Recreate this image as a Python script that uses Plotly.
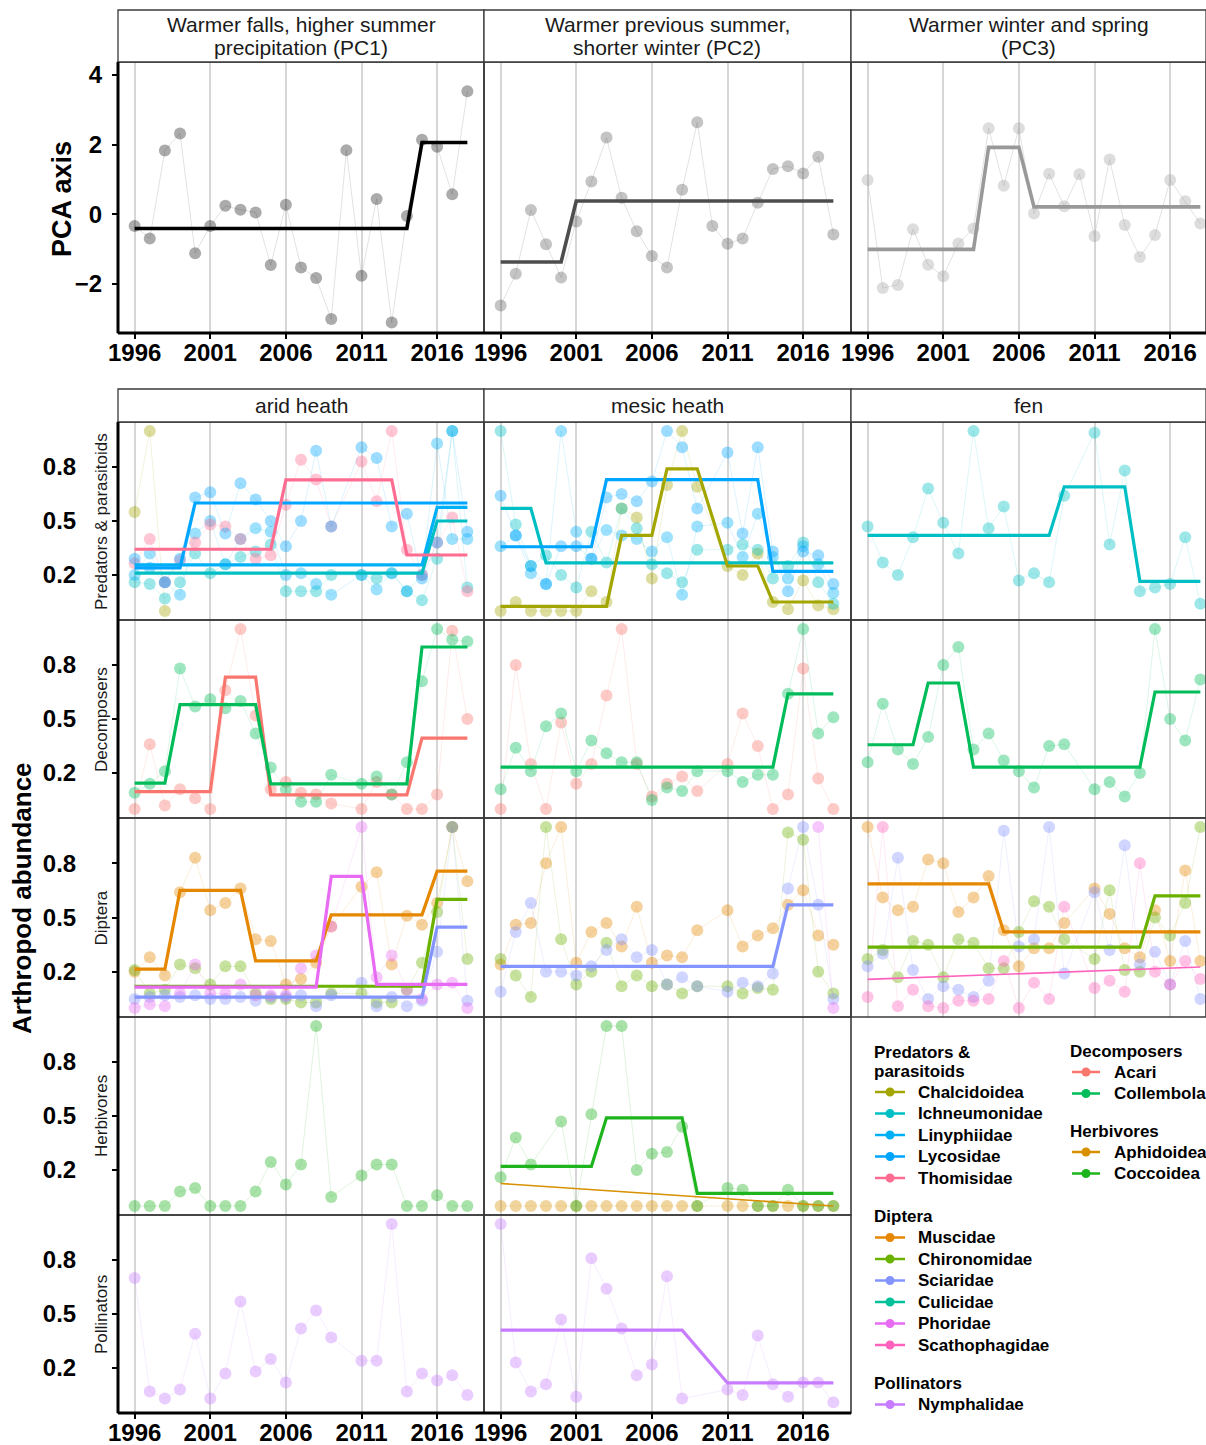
import plotly.graph_objects as go

W, H = 1206, 1445
FONT = "Liberation Sans, Arial, sans-serif"
YEARS = list(range(1996, 2019))

# ---------------- climate PCA scores ----------------
PC1_SCORES = [-0.34, -0.70, 1.83, 2.32, -1.12, -0.34, 0.24, 0.13, 0.05, -1.46, 0.27, -1.53,
              -1.83, -3.01, 1.84, -1.77, 0.44, -3.11, -0.05, 2.14, 1.94, 0.57, 3.53]
PC1_FIT = [(1996, 2014, -0.41), (2015, 2018, 2.06)]
PC2_SCORES = [-2.62, -1.71, 0.12, -0.86, -1.82, -0.21, 0.94, 2.20, 0.47, -0.49, -1.20, -1.53,
              0.70, 2.64, -0.34, -0.85, -0.70, 0.33, 1.30, 1.38, 1.17, 1.65, -0.58]
PC2_FIT = [(1996, 2000, -1.37), (2001, 2018, 0.38)]
PC3_SCORES = [0.98, -2.12, -2.03, -0.43, -1.45, -1.78, -0.84, -0.41, 2.47, 0.82, 2.47, 0.02,
              1.16, 0.23, 1.15, -0.63, 1.57, -0.31, -1.23, -0.60, 0.98, 0.37, -0.27]
PC3_FIT = [(1996, 2003, -1.01), (2004, 2006, 1.92), (2007, 2018, 0.21)]
PC_TITLES = [("Warmer falls, higher summer", "precipitation (PC1)"),
             ("Warmer previous summer,", "shorter winter (PC2)"),
             ("Warmer winter and spring", "(PC3)")]

# ---------------- relative arthropod abundance ----------------
N = None
# Predators & parasitoids
ARID_CHALCIDOIDEA = [0.55, 1.0, 0.0, N, N, N, N, N, N, N, N, N, N, N, N, N, N, N, N, N, N, N, N]
ARID_ICHNEUMONIDAE = [0.16, 0.15, 0.07, 0.16, 0.32, 0.21, 0.26, 0.30, 0.33, 0.37, 0.11, 0.11,
                      0.11, 0.20, N, 0.20, 0.18, 0.21, 0.11, 0.06, 0.29, 1.0, 0.13]
ARID_ICHNEUMONIDAE_FIT = [(1996, 2015, 0.21), (2016, 2018, 0.50)]
ARID_LINYPHIIDAE = [0.20, 0.32, 0.16, 0.09, 0.43, 0.50, 0.26, 0.40, 0.46, 0.44, 0.20, 0.21,
                    0.15, 0.09, N, 0.20, 0.12, 0.21, 0.11, 0.20, 0.93, 0.40, 0.40]
ARID_LINYPHIIDAE_FIT = [(1996, 2015, 0.256), (2016, 2018, 0.576)]
ARID_LYCOSIDAE = [0.29, 0.24, 0.16, 0.29, 0.63, 0.66, 0.43, 0.71, 0.62, 0.50, 0.36, 0.50,
                  0.89, 0.47, N, 0.91, 0.85, 0.47, 0.54, 0.18, 0.38, 1.0, 0.44]
ARID_LYCOSIDAE_FIT = [(1996, 1999, 0.24), (2000, 2018, 0.60)]
ARID_THOMISIDAE = [0.265, 0.40, 0.16, 0.28, 0.38, 0.48, 0.47, 0.40, 0.29, 0.31, 0.59, 0.84,
                   0.73, 0.47, N, 0.83, 0.61, 1.0, 0.34, 0.20, 0.38, 0.52, 0.11]
ARID_THOMISIDAE_FIT = [(1996, 2005, 0.343), (2006, 2013, 0.728), (2014, 2018, 0.311)]

MESIC_CHALCIDOIDEA = [0.0, 0.05, 0.0, 0.0, 0.0, 0.0, 0.11, 0.05, 0.57, 0.52, 0.18, 0.70,
                      1.0, 0.69, N, 0.25, 0.20, 0.32, 0.05, 0.01, 0.17, 0.03, 0.01]
MESIC_CHALCIDOIDEA_FIT = [(1996, 2003, 0.026), (2004, 2006, 0.42), (2007, 2009, 0.79),
                          (2011, 2013, 0.25), (2014, 2018, 0.05)]
MESIC_ICHNEUMONIDAE = [1.0, 0.48, 0.25, 0.31, 0.20, 0.13, 0.44, 0.27, 0.57, 0.46, 0.26, 0.21,
                       0.16, 0.34, N, 0.34, 0.37, 0.34, 0.18, 0.25, 0.38, 0.16, 0.04]
MESIC_ICHNEUMONIDAE_FIT = [(1996, 1998, 0.57), (1999, 2018, 0.267)]
MESIC_LINYPHIIDAE = [0.36, 0.42, 0.21, 0.15, 1.0, 0.44, 0.29, 0.45, 0.42, 0.40, 0.33, 0.41,
                     0.09, 0.47, N, 0.49, 0.30, 0.54, 0.30, 0.18, 0.36, 0.26, 0.10]
MESIC_LYCOSIDAE = [0.64, 0.42, 0.25, 0.15, 0.36, 0.36, 0.29, 0.63, 0.65, 0.61, 0.72, 1.0,
                   0.91, 0.57, N, 0.88, 0.43, 0.91, 0.33, 0.11, 0.33, 0.31, 0.15]
MESIC_LYCOSIDAE_FIT = [(1996, 2002, 0.357), (2003, 2013, 0.73), (2014, 2018, 0.22)]

FEN_ICHNEUMONIDAE = [0.47, 0.27, 0.20, 0.41, 0.68, 0.49, 0.32, 1.0, 0.46, 0.58, 0.17, 0.21,
                     0.16, 0.64, N, 0.99, 0.37, 0.78, 0.11, 0.13, 0.15, 0.41, 0.04]
FEN_ICHNEUMONIDAE_FIT = [(1996, 2008, 0.42), (2009, 2013, 0.69), (2014, 2018, 0.165)]

# Decomposers
ARID_ACARI = [0.0, 0.36, 0.02, 0.11, 0.06, 0.0, 0.66, 1.0, 0.52, 0.11, 0.15, 0.09,
              0.08, 0.03, N, 0.0, 0.15, 0.08, 0.0, 0.0, 0.08, 0.99, 0.50]
ARID_ACARI_FIT = [(1996, 2001, 0.096), (2002, 2004, 0.733), (2005, 2014, 0.078), (2015, 2018, 0.394)]
ARID_COLLEMBOLA = [0.09, 0.14, 0.21, 0.78, 0.57, 0.61, 0.56, 0.60, 0.42, 0.23, 0.11, 0.04,
                   0.04, 0.19, N, 0.14, 0.18, 0.08, 0.26, 0.71, 1.0, 0.94, 0.93]
ARID_COLLEMBOLA_FIT = [(1996, 1998, 0.144), (1999, 2004, 0.58), (2005, 2014, 0.14), (2015, 2018, 0.90)]
MESIC_ACARI = [0.0, 0.80, 0.25, 0.0, 0.48, 0.14, 0.25, 0.63, 1.0, 0.25, 0.07, 0.14,
               0.18, 0.10, N, 0.25, 0.53, 0.35, 0.0, 0.08, 0.78, 0.17, 0.0]
MESIC_COLLEMBOLA = [0.11, 0.34, 0.21, 0.46, 0.53, 0.21, 0.38, 0.31, 0.26, 0.26, 0.05, 0.12,
                    0.10, 0.21, N, 0.21, 0.15, 0.19, 0.19, 0.64, 1.0, 0.42, 0.51]
MESIC_COLLEMBOLA_FIT = [(1996, 2014, 0.233), (2015, 2018, 0.64)]
FEN_COLLEMBOLA = [0.26, 0.585, 0.33, 0.25, 0.40, 0.80, 0.90, 0.33, 0.42, 0.27, 0.21, 0.12,
                  0.35, 0.36, N, 0.11, 0.15, 0.07, 0.20, 1.0, 0.50, 0.38, 0.72]
FEN_COLLEMBOLA_FIT = [(1996, 1999, 0.357), (2000, 2002, 0.70), (2003, 2014, 0.233), (2015, 2018, 0.65)]

# Diptera
ARID_MUSCIDAE = [0.20, 0.28, 0.18, 0.64, 0.83, 0.54, 0.58, 0.66, 0.38, 0.37, 0.13, 0.16,
                 0.25, 0.45, N, 0.67, 0.75, 0.24, 0.51, 0.46, 0.58, 1.0, 0.70]
ARID_MUSCIDAE_FIT = [(1996, 1998, 0.215), (1999, 2003, 0.65), (2004, 2008, 0.26),
                     (2009, 2015, 0.515), (2016, 2018, 0.756)]
ARID_CHIRONOMIDAE = [0.21, 0.08, 0.10, 0.24, 0.22, 0.13, 0.23, 0.23, 0.08, 0.05, 0.05, 0.03,
                     0.03, 0.08, N, 0.08, 0.03, 0.03, 0.10, 0.25, 0.53, 1.0, 0.27]
ARID_CHIRONOMIDAE_FIT = [(1996, 2015, 0.12), (2016, 2018, 0.60)]
ARID_SCIARIDAE = [0.05, 0.06, 0.07, 0.06, 0.07, 0.05, 0.05, 0.06, 0.04, 0.06, 0.06, 0.07,
                  0.01, 0.07, N, 0.14, 0.01, 0.06, 0.01, 0.04, 0.31, 1.0, 0.04]
ARID_SCIARIDAE_FIT = [(1996, 2015, 0.06), (2016, 2018, 0.447)]
ARID_PHORIDAE = [0.0, 0.02, 0.01, 0.08, 0.24, 0.08, 0.08, 0.13, 0.07, 0.07, 0.07, 0.22,
                 0.29, 0.45, N, 1.0, 0.17, 0.29, 0.10, 0.05, 0.13, 0.14, 0.0]
ARID_PHORIDAE_FIT = [(1996, 2008, 0.115), (2009, 2011, 0.727), (2012, 2018, 0.13)]

MESIC_MUSCIDAE = [0.24, 0.46, 0.47, 0.80, 1.0, 0.25, 0.42, 0.47, 0.34, 0.56, 0.25, 0.29,
                  0.28, 0.43, N, 0.54, 0.34, 0.40, 0.44, 0.57, 0.65, 0.40, 0.35]
MESIC_CHIRONOMIDAE = [0.27, 0.18, 0.06, 1.0, 0.38, 0.13, 0.20, 0.36, 0.12, 0.18, 0.12, 0.13,
                      0.08, 0.12, N, 0.12, 0.08, 0.11, 0.10, 0.97, 0.93, 0.20, 0.08]
MESIC_SCIARIDAE = [0.09, 0.42, 0.58, 0.20, 0.20, 0.18, 0.23, 0.32, 0.38, 0.28, 0.32, 0.13,
                   0.17, 0.12, N, 0.09, 0.14, 0.12, 0.19, 0.66, 1.0, 0.57, 0.05]
MESIC_SCIARIDAE_FIT = [(1996, 2014, 0.23), (2015, 2018, 0.57)]
MESIC_PHORIDAE = [N, N, N, N, N, N, N, N, N, N, N, N, N, N, N, N, N, N, N, N, N, 1.0, 0.0]

FEN_MUSCIDAE = [1.0, 0.61, 0.54, 0.56, 0.82, 0.80, 0.53, 0.61, 0.73, 0.43, 0.23, 0.33,
                0.33, 0.47, N, 0.66, 0.52, 0.33, 0.28, 0.54, 0.26, 0.76, 0.26]
FEN_MUSCIDAE_FIT = [(1996, 2004, 0.686), (2005, 2018, 0.42)]
FEN_CHIRONOMIDAE = [0.27, 0.32, 0.17, 0.37, 0.35, 0.17, 0.38, 0.36, 0.22, 0.22, 0.42, 0.59,
                    0.56, 0.38, N, 0.27, 0.65, 0.21, 0.20, 0.50, 0.40, 0.58, 1.0]
FEN_CHIRONOMIDAE_FIT = [(1996, 2014, 0.336), (2015, 2018, 0.62)]
FEN_SCIARIDAE = [0.23, 0.30, 0.83, 0.21, 0.05, 0.12, 0.10, 0.06, 0.15, 0.98, 0.34, 0.38,
                 1.0, 0.19, N, 0.64, 0.32, 0.90, 0.24, 0.31, 0.13, 0.37, 0.05]
FEN_SCATHOPHAGIDAE = [0.06, 1.0, 0.01, 0.10, 0.01, 0.0, 0.04, 0.04, 0.05, 0.26, 0.0, 0.14,
                      0.05, 0.56, N, 0.11, 0.15, 0.09, 0.80, 0.20, 0.13, 0.26, 0.16]
FEN_SCATHOPHAGIDAE_TREND = [(1996, 0.158), (2018, 0.226)]

# Herbivores
ARID_COCCOIDEA = [0.0, 0.0, 0.0, 0.08, 0.10, 0.0, 0.0, 0.0, 0.08, 0.245, 0.12, 0.23,
                  1.0, 0.05, N, 0.17, 0.23, 0.23, 0.0, 0.0, 0.06, 0.0, 0.0]
MESIC_COCCOIDEA = [0.16, 0.38, 0.23, N, 0.47, 0.0, 0.51, 1.0, 1.0, 0.20, 0.29, 0.30,
                   0.44, 0.0, N, 0.10, 0.09, 0.0, 0.0, 0.09, 0.0, 0.0, 0.0]
MESIC_COCCOIDEA_FIT = [(1996, 2002, 0.22), (2003, 2008, 0.49), (2009, 2018, 0.07)]
MESIC_APHIDOIDEA = [0.0, 0.0, 0.0, 0.0, 0.0, 0.0, 0.0, 0.0, 0.0, 0.0, 0.0, 0.0,
                    0.0, 0.0, N, 0.0, 0.0, 0.0, 0.0, 0.0, 0.0, 0.0, 0.0]
MESIC_APHIDOIDEA_TREND = [(1996, 0.125), (2018, 0.0)]

# Pollinators
ARID_NYMPHALIDAE = [0.70, 0.07, 0.03, 0.08, 0.39, 0.03, 0.17, 0.57, 0.18, 0.25, 0.12, 0.42,
                    0.52, 0.37, N, 0.24, 0.24, 1.0, 0.07, 0.17, 0.13, 0.16, 0.05]
MESIC_NYMPHALIDAE = [1.0, 0.23, 0.07, 0.11, 0.47, 0.04, 0.81, 0.64, 0.42, 0.16, 0.22, 0.71,
                     0.03, N, N, 0.08, 0.05, 0.38, 0.11, 0.04, 0.12, 0.12, 0.01]
MESIC_NYMPHALIDAE_FIT = [(1996, 2008, 0.41), (2009, 2018, 0.117)]

COLORS = {
    "Chalcidoidea": "#A3A500", "Ichneumonidae": "#00BFC4", "Linyphiidae": "#00B0F6",
    "Lycosidae": "#00A5FF", "Thomisidae": "#FF6C91",
    "Acari": "#F8766D", "Collembola": "#00BC59",
    "Aphidoidea": "#D89000", "Coccoidea": "#1DB41D",
    "Muscidae": "#E58700", "Chironomidae": "#6BB100", "Sciaridae": "#8494FF",
    "Culicidae": "#00C19A", "Phoridae": "#E76BF3", "Scathophagidae": "#FF62BC",
    "Nymphalidae": "#C77CFF",
}

# legend layout: (group title lines, taxa)
LEGEND_LEFT = [(["Predators &", "parasitoids"], ["Chalcidoidea", "Ichneumonidae", "Linyphiidae",
                                                 "Lycosidae", "Thomisidae"]),
               (["Diptera"], ["Muscidae", "Chironomidae", "Sciaridae", "Culicidae", "Phoridae",
                              "Scathophagidae"]),
               (["Pollinators"], ["Nymphalidae"])]
LEGEND_RIGHT = [(["Decomposers"], ["Acari", "Collembola"]),
                (["Herbivores"], ["Aphidoidea", "Coccoidea"])]

# column / row geometry (pixels)
COLS = [(118, 484), (484, 851), (851, 1206)]
PX_PER_YEAR = 366 / 24.2
X0 = 1994.9
TOP_ROW = (62, 333)
ROWS = [(422, 620), (620, 818), (818, 1017), (1017, 1215), (1215, 1413)]
ROW_LABELS = ["Predators & parasitoids", "Decomposers", "Diptera", "Herbivores", "Pollinators"]
HABITATS = ["arid heath", "mesic heath", "fen"]


def rgba(hexc, a):
    h = hexc.lstrip("#")
    r, g, b = int(h[0:2], 16), int(h[2:4], 16), int(h[4:6], 16)
    return f"rgba({r},{g},{b},{a})"


def expand(segments, series=None):
    out = []
    for k, yr in enumerate(YEARS):
        v = None
        for a, b, lvl in segments:
            if a <= yr <= b:
                v = lvl
        if series is not None and series[k] is None:
            v = None
        out.append(v)
    return out


def px(xp):
    return xp / W


def py(yp):
    return 1 - yp / H


fig = go.Figure()
layout = {}
shapes = []
annotations = []
axis_n = [0]


def new_panel(col, rows_px, yrange, bottom_ticks, yticks):
    axis_n[0] += 1
    n = axis_n[0]
    sfx = "" if n == 1 else str(n)
    xl, xr = COLS[col]
    yt, yb = rows_px
    x_hi = X0 + (xr - xl) / PX_PER_YEAR
    layout["xaxis" + sfx] = dict(
        domain=[px(xl), px(xr)], anchor="y" + sfx, range=[X0, x_hi],
        showgrid=True, gridcolor="#d6d6d6", gridwidth=2, tick0=1996, dtick=5,
        zeroline=False, showline=False, automargin=False,
        ticks="outside" if bottom_ticks else "", ticklen=5, tickwidth=2, tickcolor="black",
        ticklabelstandoff=-7,
        showticklabels=bottom_ticks,
        tickfont=dict(family=FONT, size=24, color="black", weight="bold"),
    )
    ydict = dict(domain=[py(yb), py(yt)], anchor="x" + sfx, range=yrange,
                 showgrid=False, zeroline=False, showline=False, automargin=False)
    if yticks is not None:
        vals, texts, standoff = yticks
        ydict.update(tickvals=vals, ticktext=texts, ticks="outside", ticklen=5, tickwidth=2,
                     tickcolor="black", ticklabelstandoff=standoff,
                     tickfont=dict(family=FONT, size=24, color="black", weight="bold"))
    else:
        ydict.update(showticklabels=False, ticks="")
    layout["yaxis" + sfx] = ydict
    shapes.append(dict(type="rect", xref="paper", yref="paper",
                       x0=px(xl), x1=px(xr), y0=py(yb), y1=py(yt),
                       line=dict(color="#3a3a3a", width=1.6), layer="above"))
    return "x" + sfx, "y" + sfx


def add_points(ax, series, color, pt_alpha=0.38, ln_alpha=0.14):
    fig.add_trace(go.Scatter(
        x=YEARS, y=series, xaxis=ax[0], yaxis=ax[1], mode="lines+markers",
        connectgaps=True, line=dict(color=rgba(color, ln_alpha), width=1),
        marker=dict(color=rgba(color, pt_alpha), size=12, line=dict(width=0)),
        showlegend=False, hoverinfo="skip"))


def add_fit(ax, segments, color, series=None, width=3.2):
    fig.add_trace(go.Scatter(
        x=YEARS, y=expand(segments, series), xaxis=ax[0], yaxis=ax[1], mode="lines",
        connectgaps=True, line=dict(color=color, width=width),
        showlegend=False, hoverinfo="skip"))


def add_trend(ax, ends, color):
    fig.add_trace(go.Scatter(
        x=[p[0] for p in ends], y=[p[1] for p in ends], xaxis=ax[0], yaxis=ax[1],
        mode="lines", line=dict(color=color, width=1.6), showlegend=False, hoverinfo="skip"))


def text(x, y, s, size, weight="normal", angle=0, xanchor="center", color="#1a1a1a"):
    annotations.append(dict(x=px(x), y=py(y), xref="paper", yref="paper", text=s,
                            showarrow=False, textangle=angle, xanchor=xanchor, yanchor="middle",
                            font=dict(family=FONT, size=size, color=color, weight=weight)))


# ---------------- top row: climate PCA ----------------
PC_RANGE = [-3.41, 4.37]
pc_sets = [(PC1_SCORES, PC1_FIT, "#000000"), (PC2_SCORES, PC2_FIT, "#4D4D4D"),
           (PC3_SCORES, PC3_FIT, "#999999")]
for c, (scores, fit, col) in enumerate(pc_sets):
    yt = ([4, 2, 0, -2], ["4", "2", "0", "\u22122"], 5) if c == 0 else None
    ax = new_panel(c, TOP_ROW, PC_RANGE, True, yt)
    fig.add_trace(go.Scatter(
        x=YEARS, y=scores, xaxis=ax[0], yaxis=ax[1], mode="lines+markers",
        line=dict(color="rgba(190,190,190,0.45)", width=1),
        marker=dict(color=rgba(col, 0.33), size=12, line=dict(width=0)),
        showlegend=False, hoverinfo="skip"))
    add_fit(ax, fit, col, width=3.6)
    xl, xr = COLS[c]
    shapes.append(dict(type="rect", xref="paper", yref="paper", x0=px(xl), x1=px(xr),
                       y0=py(62), y1=py(10), line=dict(color="#3a3a3a", width=1.3),
                       fillcolor="white", layer="above"))
    cx = (xl + min(xr, 1217)) / 2
    text(cx, 24, PC_TITLES[c][0], 21)
    text(cx, 47, PC_TITLES[c][1], 21)

# ---------------- arthropod panels ----------------
AB_RANGE = [-0.05, 1.05]
AB_TICKS = ([0.2, 0.5, 0.8], ["0.2", "0.5", "0.8"], 31)

panels = [
    # (row, col, points, step fits, linear trends)
    (0, 0, [("Chalcidoidea", ARID_CHALCIDOIDEA), ("Ichneumonidae", ARID_ICHNEUMONIDAE),
            ("Linyphiidae", ARID_LINYPHIIDAE), ("Thomisidae", ARID_THOMISIDAE),
            ("Lycosidae", ARID_LYCOSIDAE)],
     [("Ichneumonidae", ARID_ICHNEUMONIDAE_FIT, ARID_ICHNEUMONIDAE),
      ("Linyphiidae", ARID_LINYPHIIDAE_FIT, ARID_LINYPHIIDAE),
      ("Lycosidae", ARID_LYCOSIDAE_FIT, ARID_LYCOSIDAE),
      ("Thomisidae", ARID_THOMISIDAE_FIT, ARID_THOMISIDAE)], []),
    (0, 1, [("Chalcidoidea", MESIC_CHALCIDOIDEA), ("Ichneumonidae", MESIC_ICHNEUMONIDAE),
            ("Linyphiidae", MESIC_LINYPHIIDAE), ("Lycosidae", MESIC_LYCOSIDAE)],
     [("Ichneumonidae", MESIC_ICHNEUMONIDAE_FIT, MESIC_ICHNEUMONIDAE),
      ("Lycosidae", MESIC_LYCOSIDAE_FIT, MESIC_LYCOSIDAE),
      ("Chalcidoidea", MESIC_CHALCIDOIDEA_FIT, MESIC_CHALCIDOIDEA)], []),
    (0, 2, [("Ichneumonidae", FEN_ICHNEUMONIDAE)],
     [("Ichneumonidae", FEN_ICHNEUMONIDAE_FIT, FEN_ICHNEUMONIDAE)], []),
    (1, 0, [("Acari", ARID_ACARI), ("Collembola", ARID_COLLEMBOLA)],
     [("Acari", ARID_ACARI_FIT, ARID_ACARI), ("Collembola", ARID_COLLEMBOLA_FIT, ARID_COLLEMBOLA)], []),
    (1, 1, [("Acari", MESIC_ACARI), ("Collembola", MESIC_COLLEMBOLA)],
     [("Collembola", MESIC_COLLEMBOLA_FIT, MESIC_COLLEMBOLA)], []),
    (1, 2, [("Collembola", FEN_COLLEMBOLA)],
     [("Collembola", FEN_COLLEMBOLA_FIT, FEN_COLLEMBOLA)], []),
    (2, 0, [("Muscidae", ARID_MUSCIDAE), ("Chironomidae", ARID_CHIRONOMIDAE),
            ("Sciaridae", ARID_SCIARIDAE), ("Phoridae", ARID_PHORIDAE)],
     [("Muscidae", ARID_MUSCIDAE_FIT, ARID_MUSCIDAE),
      ("Chironomidae", ARID_CHIRONOMIDAE_FIT, ARID_CHIRONOMIDAE),
      ("Sciaridae", ARID_SCIARIDAE_FIT, ARID_SCIARIDAE),
      ("Phoridae", ARID_PHORIDAE_FIT, ARID_PHORIDAE)], []),
    (2, 1, [("Muscidae", MESIC_MUSCIDAE), ("Chironomidae", MESIC_CHIRONOMIDAE),
            ("Sciaridae", MESIC_SCIARIDAE), ("Phoridae", MESIC_PHORIDAE)],
     [("Sciaridae", MESIC_SCIARIDAE_FIT, MESIC_SCIARIDAE)], []),
    (2, 2, [("Muscidae", FEN_MUSCIDAE), ("Chironomidae", FEN_CHIRONOMIDAE),
            ("Sciaridae", FEN_SCIARIDAE), ("Scathophagidae", FEN_SCATHOPHAGIDAE)],
     [("Muscidae", FEN_MUSCIDAE_FIT, FEN_MUSCIDAE),
      ("Chironomidae", FEN_CHIRONOMIDAE_FIT, FEN_CHIRONOMIDAE)],
     [("Scathophagidae", FEN_SCATHOPHAGIDAE_TREND)]),
    (3, 0, [("Coccoidea", ARID_COCCOIDEA)], [], []),
    (3, 1, [("Aphidoidea", MESIC_APHIDOIDEA), ("Coccoidea", MESIC_COCCOIDEA)],
     [("Coccoidea", MESIC_COCCOIDEA_FIT, MESIC_COCCOIDEA)],
     [("Aphidoidea", MESIC_APHIDOIDEA_TREND)]),
    (4, 0, [("Nymphalidae", ARID_NYMPHALIDAE)], [], []),
    (4, 1, [("Nymphalidae", MESIC_NYMPHALIDAE)],
     [("Nymphalidae", MESIC_NYMPHALIDAE_FIT, MESIC_NYMPHALIDAE)], []),
]

for row, col, pts, fits, trends in panels:
    ax = new_panel(col, ROWS[row], AB_RANGE, row == 4, AB_TICKS if col == 0 else None)
    for name, series in pts:
        add_points(ax, series, COLORS[name])
    for name, trend in trends:
        add_trend(ax, trend, COLORS[name])
    for name, segs, series in fits:
        add_fit(ax, segs, COLORS[name], series)

# habitat strips
for c, label in enumerate(HABITATS):
    xl, xr = COLS[c]
    shapes.append(dict(type="rect", xref="paper", yref="paper", x0=px(xl), x1=px(xr),
                       y0=py(422), y1=py(389), line=dict(color="#3a3a3a", width=1.3),
                       fillcolor="white", layer="above"))
    text((xl + min(xr, 1217)) / 2, 406, label, 21)

# functional-group labels on the left of each row
for (yt, yb), label in zip(ROWS, ROW_LABELS):
    text(101, (yt + yb) / 2, label, 17, angle=-90)

# heavy axis lines on the outer left and bottom edges
for x0, y0, x1, y1 in [(118, 62, 118, 333), (118, 333, 1206, 333),
                       (118, 422, 118, 1413), (118, 1413, 851, 1413)]:
    shapes.append(dict(type="line", xref="paper", yref="paper", x0=px(x0), x1=px(x1),
                       y0=py(y0), y1=py(y1), line=dict(color="black", width=3)))

# axis titles
text(62, 199, "PCA axis", 27, weight="bold", angle=-90, color="black")
text(22, 898, "Arthropod abundance", 26, weight="bold", angle=-90, color="black")

# ---------------- legend (drawn by hand, two columns) ----------------
LEG_STEP = 21.5


def draw_legend(groups, x_title, x_key0, x_key1, x_text, y_start, group_gap):
    y = y_start
    for title_lines, names in groups:
        for t in title_lines:
            text(x_title, y, t, 17, weight="bold", xanchor="left", color="black")
            y += 19
        y += 2
        for name in names:
            c = COLORS[name]
            shapes.append(dict(type="line", xref="paper", yref="paper", x0=px(x_key0), x1=px(x_key1),
                               y0=py(y), y1=py(y), line=dict(color=c, width=2.5)))
            xm = (x_key0 + x_key1) / 2
            shapes.append(dict(type="circle", xref="paper", yref="paper",
                               x0=px(xm - 4.5), x1=px(xm + 4.5), y0=py(y + 4.5), y1=py(y - 4.5),
                               fillcolor=c, line=dict(color=c, width=0)))
            text(x_text, y, name, 17, weight="bold", xanchor="left", color="black")
            y += LEG_STEP
        y += group_gap


draw_legend(LEGEND_LEFT, 872, 875, 905, 916, 1052, 17)
draw_legend(LEGEND_RIGHT, 1068, 1072, 1100, 1112, 1051, 16)

fig.update_layout(
    width=W, height=H, margin=dict(l=0, r=0, t=0, b=0, autoexpand=False),
    paper_bgcolor="white", plot_bgcolor="white",
    shapes=shapes, annotations=annotations, showlegend=False,
    **layout)

fig.write_html("out.html")
